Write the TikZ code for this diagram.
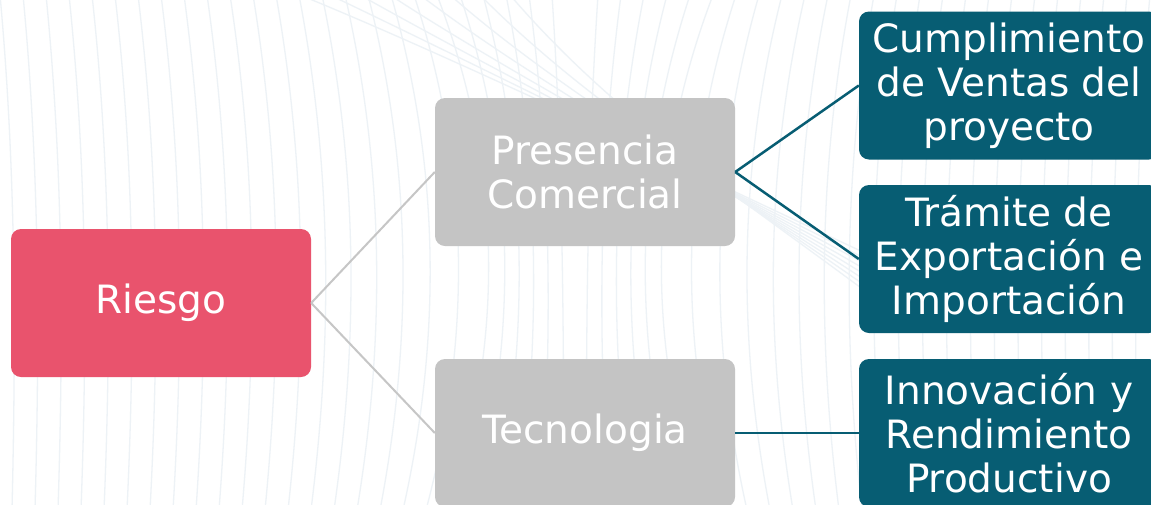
\documentclass[tikz,border=0pt]{standalone}
\usepackage{fontspec}
\setmainfont{DejaVu Sans}
\begin{document}
\definecolor{riskpink}{HTML}{E9536D}
\definecolor{boxgray}{HTML}{C4C4C4}
\definecolor{teal}{HTML}{075D73}
\definecolor{linegray}{HTML}{C6C6C6}
\definecolor{bgstroke}{HTML}{EDF2F6}
\begin{tikzpicture}[x=1pt,y=-1pt,
  bgline/.style={draw=bgstroke,line width=1.3pt},
  card/.style={rounded corners=10pt,minimum width=300pt,minimum height=148pt,
    inner sep=0pt,align=center,text=white,font=\fontsize{39}{44}\selectfont},
  rootbox/.style={card,fill=riskpink},
  midbox/.style={card,fill=boxgray},
  leafbox/.style={card,fill=teal},
  grayedge/.style={draw=linegray,line width=2pt},
  tealedge/.style={draw=teal,line width=2.5pt}]
\useasboundingbox (0,0) rectangle (1151,504);
\clip (0,0) rectangle (1151,504);
\fill[white] (0,0) rectangle (1151,504);

% faint flow lines in the background
\foreach \k in {1,...,26} {
  \pgfmathsetmacro\b{min(0.5*23*\k,400/\k)}
  \pgfmathsetmacro\xl{575-23*\k}
  \pgfmathsetmacro\cl{575-23*\k+\b}
  \pgfmathsetmacro\bl{575-23*\k+12}
  \pgfmathsetmacro\xr{575+23*\k}
  \pgfmathsetmacro\cr{575+23*\k-\b}
  \pgfmathsetmacro\br{575+23*\k-12}
  \draw[bgline] (\xl,-5) .. controls (\cl,170) and (\cl,340) .. (\bl,510);
  \draw[bgline] (\xr,-5) .. controls (\cr,170) and (\cr,340) .. (\br,510);
}
\foreach \j in {0,...,7} {
  \pgfmathsetmacro\xs{300+30*\j}
  \pgfmathsetmacro\ca{460+22*\j}
  \pgfmathsetmacro\cb{60+8*\j}
  \pgfmathsetmacro\ey{260+6*\j}
  \draw[bgline] (\xs,-5) .. controls (\ca,\cb) and (730,190) .. (880,\ey);
}

% nodes
\node[rootbox] (riesgo) at (161,303) {Riesgo};
\node[midbox] (presencia) at (585,172) {Presencia\\Comercial};
\node[midbox] (tecno) at (585,433) {Tecnologia};
\node[leafbox] (ventas) at (1009,85.5) {Cumplimiento\\de Ventas del\\proyecto};
\node[leafbox] (tramite) at (1009,259) {Trámite de\\Exportación e\\Importación};
\node[leafbox] (innova) at (1009,433) {Innovación y\\Rendimiento\\Productivo};

% connectors
\draw[grayedge] (riesgo.east) -- (presencia.west);
\draw[grayedge] (riesgo.east) -- (tecno.west);
\draw[tealedge] (presencia.east) -- (ventas.west);
\draw[tealedge] (presencia.east) -- (tramite.west);
\draw[tealedge] (tecno.east) -- (innova.west);
\end{tikzpicture}
\end{document}
